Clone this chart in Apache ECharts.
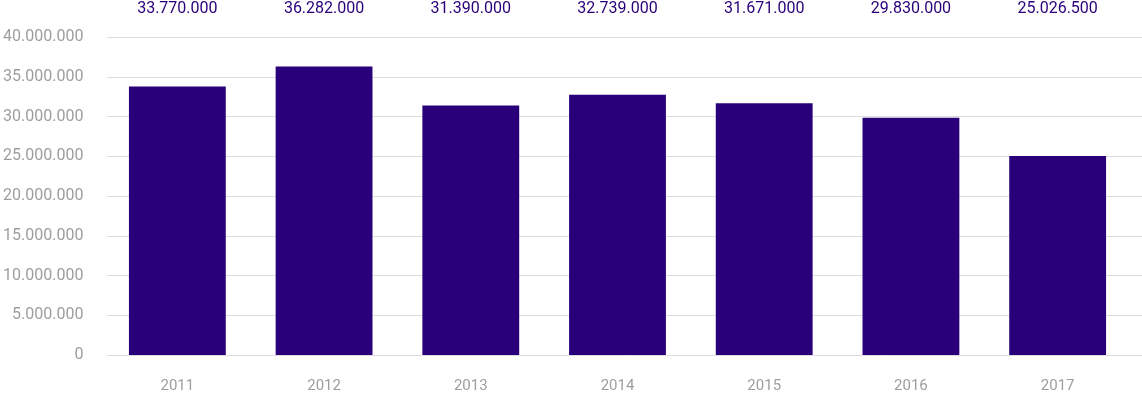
<!DOCTYPE html>
<html><head><meta charset="utf-8">
<script src="https://cdn.jsdelivr.net/npm/echarts@6/dist/echarts.min.js"></script>
<style>html,body{margin:0;padding:0;background:#fff}#c{width:1142px;height:418px}</style>
</head><body><div id="c"></div>
<script>
const categories = ['2011','2012','2013','2014','2015','2016','2017'];
const values = [33770000, 36282000, 31390000, 32739000, 31671000, 29830000, 25026500];
const yTicks = [0, 5000000, 10000000, 15000000, 20000000, 25000000, 30000000, 35000000, 40000000];

function fmt(v){ return String(v).replace(/\B(?=(\d{3})+(?!\d))/g, '.'); }

const yMin = yTicks[0], yMax = yTicks[yTicks.length-1], yStep = yTicks[1] - yTicks[0];
const chart = echarts.init(document.getElementById('c'));
chart.setOption({
  animation: false,
  grid: [
    { left: 104, right: 0, top: 37, bottom: 63 },
    { left: 104, right: 11, top: 37, bottom: 63 }
  ],
  xAxis: [
    { type: 'value', gridIndex: 0, show: false, min: 0, max: 1 },
    { type: 'category', gridIndex: 1, data: categories, position: 'bottom',
      axisLine: { show: false }, axisTick: { show: false },
      axisLabel: { color: '#9e9e9e', fontFamily: 'Roboto', fontSize: 15, margin: 24 } },
    { type: 'category', gridIndex: 1, data: categories, position: 'top',
      axisLine: { show: false }, axisTick: { show: false },
      axisLabel: { color: '#2a007a', fontFamily: 'Roboto', fontSize: 16, margin: 20,
        formatter: (v, i) => fmt(values[i]) } }
  ],
  yAxis: [
    { type: 'value', gridIndex: 0, min: yMin, max: yMax, interval: yStep,
      axisLine: { show: false }, axisTick: { show: false },
      splitLine: { lineStyle: { color: '#dcdcdc', width: 1 } },
      axisLabel: { color: '#9e9e9e', fontFamily: 'Roboto', fontSize: 16, margin: 24, formatter: v => fmt(v) } },
    { type: 'value', gridIndex: 1, min: yMin, max: yMax, interval: yStep, show: false,
      splitLine: { show: false } }
  ],
  series: [{
    type: 'bar', data: values, barWidth: '66%', xAxisIndex: 1, yAxisIndex: 1,
    itemStyle: { color: '#2a007a' }
  }]
});
</script></body></html>
